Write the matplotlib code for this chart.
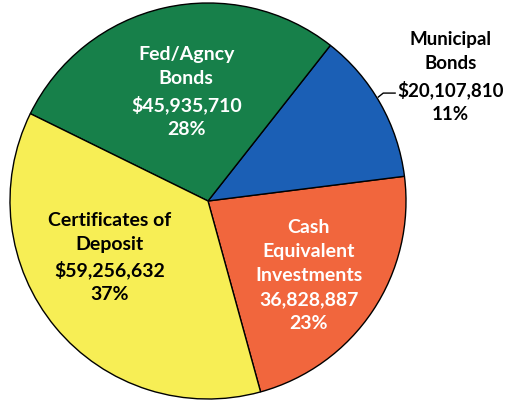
import numpy as np
import matplotlib.pyplot as plt

# slice order goes counter-clockwise from the bottom
categories = ["Cash\nEquivalent\nInvestments", "Municipal\nBonds", "Fed/Agncy\nBonds", "Certificates of\nDeposit"]
amounts = [36828887, 20107810, 45935710, 59256632]
amount_labels = ["36,828,887", "$20,107,810", "$45,935,710", "$59,256,632"]
pct_labels = ["23%", "11%", "28%", "37%"]

colors = ["#f1663d", "#1b5fb5", "#17804a", "#f7ee55"]
text_colors = ["white", "black", "white", "black"]
# label centres in axes data units (pie radius = 1)
label_pos = [(0.51, -0.37), (1.225, 0.63), (-0.11, 0.555), (-0.495, -0.28)]

plt.rcParams['font.family'] = ['Lato', 'DejaVu Sans']

fig = plt.figure(figsize=(5.08, 4.06), dpi=100)
ax = fig.add_axes([10 / 508, 6 / 406, 396 / 508, 396 / 406])

wedges, _ = ax.pie(
    amounts,
    colors=colors,
    startangle=-74.6,
    counterclock=True,
    radius=1.0,
    wedgeprops=dict(edgecolor="black", linewidth=1.0),
)

for i, cat in enumerate(categories):
    x, y = label_pos[i]
    fs = 13.5 if i == 1 else 14
    ax.text(x, y, f"{cat}\n{amount_labels[i]}\n{pct_labels[i]}",
            ha="center", va="center", fontsize=fs, fontweight="bold",
            color=text_colors[i], linespacing=1.5, clip_on=False)

# leader line for the municipal bonds label
ax.plot([0.86, 0.885, 0.945], [0.525, 0.545, 0.545], color="black", lw=1, clip_on=False)

ax.set_xlim(-1, 1)
ax.set_ylim(-1, 1)
ax.set_aspect("equal")
ax.axis("off")

fig.savefig("out.png", dpi=100)
